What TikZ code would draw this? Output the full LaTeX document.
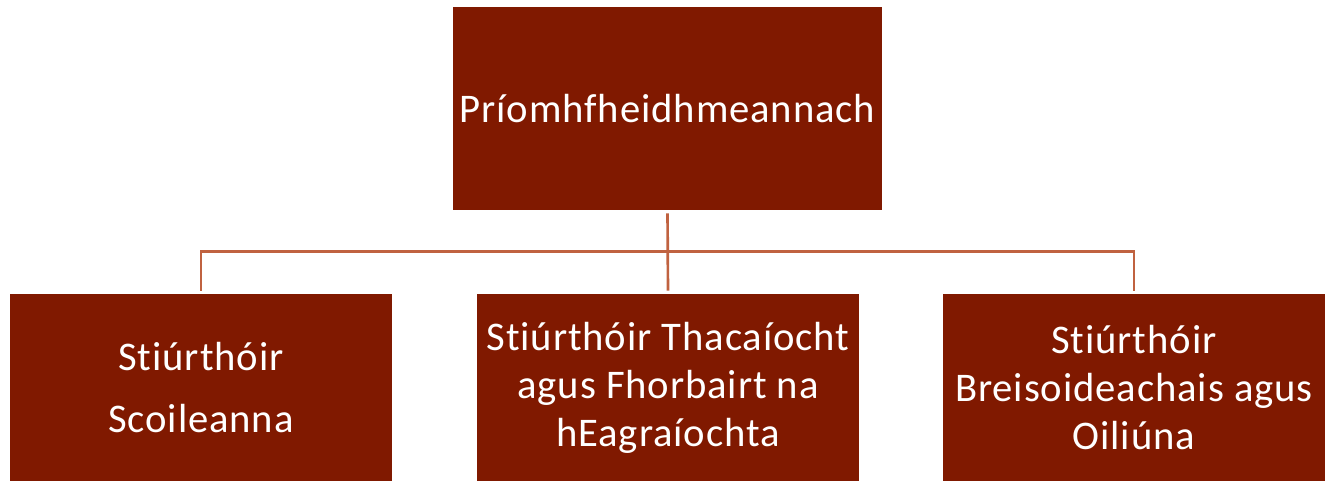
\documentclass[tikz,border=0pt]{standalone}
\usepackage{fontspec}
\setmainfont{Carlito}[Ligatures={NoCommon}, LetterSpace=2.2]
\definecolor{boxfill}{RGB}{128,25,0}
\definecolor{connc}{RGB}{192,98,64}
\begin{document}
\begin{tikzpicture}[x=0.75pt,y=-0.75pt,
  box/.style={fill=boxfill, draw=none, text=white, align=center, inner sep=0pt,
    font=\fontsize{30.5}{36}\selectfont},
  conn/.style={draw=connc, line width=2pt}]
\useasboundingbox (0,0) rectangle (1332,481);
\node[box, minimum width=321.75pt, minimum height=152.25pt] (top) at (667.5,108.5) {Príomhfheidhmeannach};
\node[box, minimum width=286.5pt, minimum height=140.25pt] (left) at (201,387.5) {Stiúrthóir\\[10.5pt]Scoileanna};
\node[box, minimum width=286.5pt, minimum height=140.25pt] (mid) at (668,387.5) {Stiúrthóir Thacaíocht\\agus Fhorbairt na\\hEagraíochta};
\node[box, minimum width=286.5pt, minimum height=140.25pt] (right) at (1134,387.5) {Stiúrthóir\\Breisoideachais agus\\Oiliúna};
\coordinate (bus) at (0,251.5);
\draw[conn, shorten <=2.25pt, shorten >=2.25pt] (top.south) -- (mid.north);
\draw[conn, shorten <=2.25pt, shorten >=2.25pt] (left.north) -- (left.north |- bus) -| (right.north);
\end{tikzpicture}
\end{document}
